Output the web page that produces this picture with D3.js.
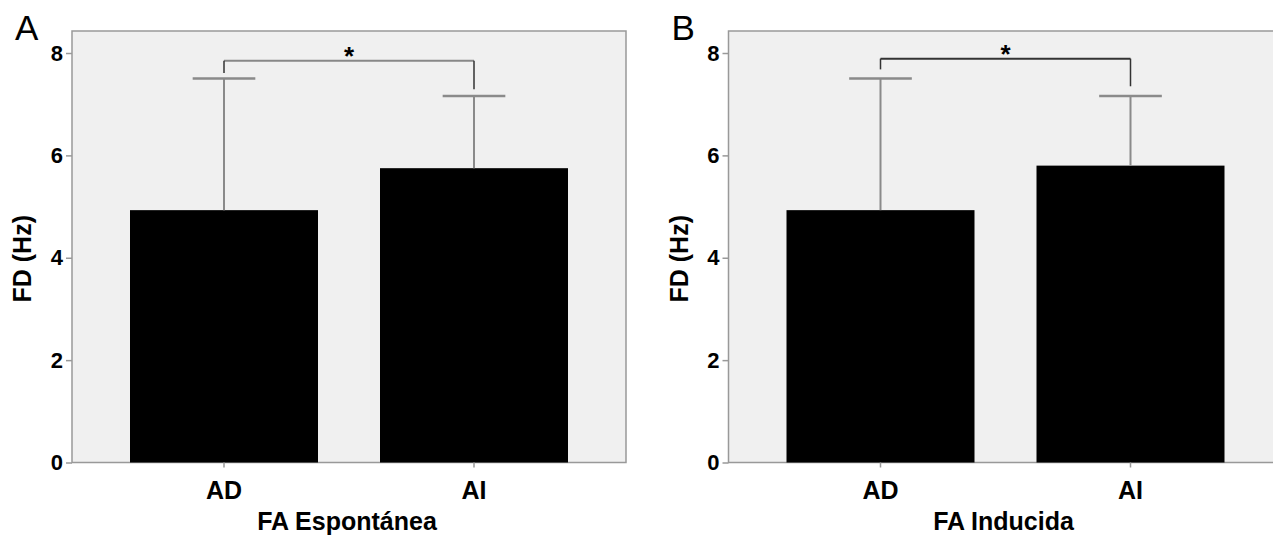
<!DOCTYPE html>
<html>
<head>
<meta charset="utf-8">
<script src="https://cdn.jsdelivr.net/npm/d3@7"></script>
<style>
  body { margin: 0; background: #fff; }
  svg { display: block; }
  text { font-family: "Liberation Sans", Arial, sans-serif; }
</style>
</head>
<body>
<div id="chart"></div>
<script>
// data
const categories = ["AD", "AI"];
const panelLetters = ["A", "B"];
const xTitles = ["FA Espontánea", "FA Inducida"];
const yTicks = [0, 2, 4, 6, 8];
const meansSpont = [4.93, 5.75];
const upperSpont = [7.50, 7.16];
const meansInduc = [4.93, 5.80];
const upperInduc = [7.50, 7.16];
// significance bracket: level, left leg end, right leg end
const bracketLevel = [7.85, 7.89];
const bracketLeftEnd = [7.61, 7.68];
const bracketRightEnd = [7.29, 7.35];
const yMax = 8.43;

const panels = [
  { means: meansSpont, upper: upperSpont },
  { means: meansInduc, upper: upperInduc }
];

const W = 1273, H = 538;
const frameW = 554;
const frameLefts = [72, 728.5];
const plotTop = 31, plotBottom = 462.5;

const svg = d3.select("#chart").append("svg")
  .attr("width", W).attr("height", H);

const y = d3.scaleLinear().domain([0, yMax]).range([plotBottom, plotTop]);

panels.forEach((p, i) => {
  const left = frameLefts[i];
  const g = svg.append("g");

  const x = d3.scaleBand()
    .domain(categories)
    .range([left, left + frameW])
    .paddingInner(0.248)
    .paddingOuter(0.232);

  // plot background + frame
  g.append("rect")
    .attr("x", left).attr("y", plotTop)
    .attr("width", frameW).attr("height", plotBottom - plotTop)
    .attr("fill", "#f0f0f0")
    .attr("stroke", "#999").attr("stroke-width", 1.5);

  // bars
  g.selectAll(".bar")
    .data(categories)
    .enter().append("rect")
    .attr("class", "bar")
    .attr("x", d => x(d))
    .attr("y", (d, k) => y(p.means[k]))
    .attr("width", x.bandwidth())
    .attr("height", (d, k) => y(0) - y(p.means[k]))
    .attr("fill", "#000");

  // error bars (upper only)
  const cap = x.bandwidth() / 3;
  categories.forEach((c, k) => {
    const cx = x(c) + x.bandwidth() / 2;
    g.append("line")
      .attr("x1", cx).attr("x2", cx)
      .attr("y1", y(p.means[k])).attr("y2", y(p.upper[k]))
      .attr("stroke", "#8a8a8a").attr("stroke-width", 2);
    g.append("line")
      .attr("x1", cx - cap / 2).attr("x2", cx + cap / 2)
      .attr("y1", y(p.upper[k])).attr("y2", y(p.upper[k]))
      .attr("stroke", "#8a8a8a").attr("stroke-width", 2.5);
  });

  // significance bracket
  const bx1 = x(categories[0]) + x.bandwidth() / 2;
  const bx2 = x(categories[1]) + x.bandwidth() / 2;
  const legColor = "#333";
  g.append("line")
    .attr("x1", bx1).attr("x2", bx2)
    .attr("y1", y(bracketLevel[i])).attr("y2", y(bracketLevel[i]))
    .attr("stroke", i === 0 ? "#888" : "#333").attr("stroke-width", 2);
  g.append("line")
    .attr("x1", bx1).attr("x2", bx1)
    .attr("y1", y(bracketLevel[i])).attr("y2", y(bracketLeftEnd[i]))
    .attr("stroke", legColor).attr("stroke-width", 1.5);
  g.append("line")
    .attr("x1", bx2).attr("x2", bx2)
    .attr("y1", y(bracketLevel[i])).attr("y2", y(bracketRightEnd[i]))
    .attr("stroke", legColor).attr("stroke-width", 1.5);
  g.append("text")
    .attr("x", (bx1 + bx2) / 2)
    .attr("y", y(bracketLevel[i]) + 4)
    .attr("text-anchor", "middle")
    .attr("font-size", "26px")
    .attr("font-weight", "bold")
    .attr("fill", "#000")
    .text("*");

  // y axis
  const ya = g.append("g")
    .attr("transform", `translate(${left},0)`)
    .call(d3.axisLeft(y).tickValues(yTicks).tickSize(6).tickPadding(3));
  ya.select(".domain").remove();
  ya.selectAll(".tick line").attr("stroke", "#999").attr("stroke-width", 1.5);
  ya.selectAll(".tick text")
    .attr("font-family", "Liberation Sans, Arial, sans-serif")
    .attr("font-size", "22px").attr("font-weight", "bold").attr("fill", "#000");

  // x axis
  const xa = g.append("g")
    .attr("transform", `translate(0,${plotBottom})`)
    .call(d3.axisBottom(x).tickSize(5).tickPadding(14));
  xa.select(".domain").remove();
  xa.selectAll(".tick line").attr("stroke", "#999").attr("stroke-width", 1.5);
  xa.selectAll(".tick text")
    .attr("font-family", "Liberation Sans, Arial, sans-serif")
    .attr("font-size", "25px").attr("font-weight", "bold").attr("fill", "#000");

  // axis titles
  g.append("text")
    .attr("x", left + frameW / 2 - 2)
    .attr("y", 530)
    .attr("text-anchor", "middle")
    .attr("font-size", "25px").attr("font-weight", "bold")
    .text(xTitles[i]);

  g.append("text")
    .attr("transform", `translate(${left - 41},${(plotTop + plotBottom) / 2 + 12}) rotate(-90)`)
    .attr("text-anchor", "middle")
    .attr("font-size", "25px").attr("font-weight", "bold")
    .text("FD (Hz)");

  // panel letter
  g.append("text")
    .attr("x", left - 57)
    .attr("y", 40)
    .attr("font-size", "35px")
    .text(panelLetters[i]);
});
</script>
</body>
</html>
